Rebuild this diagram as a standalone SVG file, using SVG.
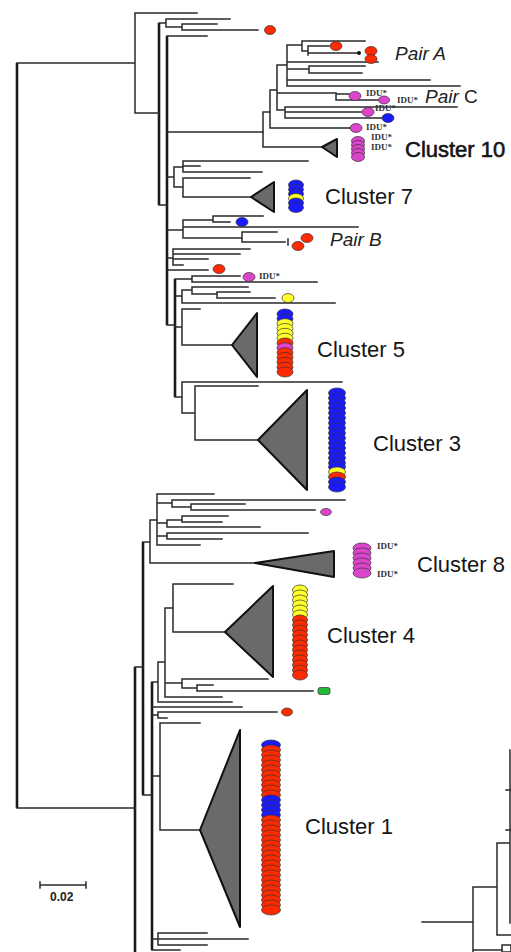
<svg xmlns="http://www.w3.org/2000/svg" width="511" height="952" viewBox="0 0 511 952">
<style>
.e{fill:none;stroke:#2a2a2a;stroke-width:1.5;stroke-linecap:square}
.t{fill:none;stroke:#1a1a1a;stroke-width:2.6}
.tri{fill:#6a6a6a;stroke:#111;stroke-width:2;stroke-linejoin:round}
.R{fill:#ff2a00;stroke:#333;stroke-width:0.7}
.B{fill:#1a1aff;stroke:#333;stroke-width:0.7}
.Y{fill:#ffff2a;stroke:#333;stroke-width:0.7}
.M{fill:#dd44cc;stroke:#333;stroke-width:0.7}
.G{fill:#22bb33;stroke:#333;stroke-width:0.7}
.lab{font-family:"Liberation Sans",Arial,sans-serif;font-size:22px;fill:#151515}
.pair{font-family:"Liberation Sans",Arial,sans-serif;font-size:19px;font-style:italic;fill:#222}
.idu{font-family:"Liberation Serif","Times New Roman",serif;font-size:9px;font-weight:bold;fill:#333}
.sb{font-family:"Liberation Sans",Arial,sans-serif;font-size:12px;font-weight:bold;fill:#222}
</style>
<rect width="511" height="952" fill="#fff"/>
<g id="connectors">
<path class="t" d="M17 63V808M159 23V205M167 36V325M135 667V952M143 542V795M152 682V950"/>
<path class="e" d="M17 63H135M17 808H135M135 13V113M135 13H197M135 113H159M159 23H166M166 19V27M166 19H230M166 27H182M182 24V30M182 24H217M182 30H258M159 205H167M167 36H207M167 132H263"/>
<path class="e" d="M263 112V147M263 147H322M263 112H270M270 90V128M270 128H351M270 90H277M277 65V110M277 110H285M285 107V118M285 107H457M285 112H361M285 118H382M277 93H336M336 94V100M336 94H349M336 100H378M277 65H287M287 45V86M287 45H302M302 41V51M302 41H365M302 51H308M308 46V55M308 46H329M308 53H357M287 62H378M287 69H309M309 66V73M309 66H365M309 73H362M287 80H430M287 86H460"/>
<path class="e" d="M167 177H174M174 167V187M174 167H183M183 161V172M183 161H308M183 166H200M183 172H262M174 187H183M183 178V197M183 178H250M183 197H251"/>
<path class="e" d="M167 230H183M183 220V238M183 220H213M213 216V222M213 216H263M213 222H230M183 227H358M183 238H242M242 232V242M242 232H277M242 242H285M288 239V245"/>
<path class="e" d="M167 258H173M173 249V265M173 249H250M173 254H240M173 259H208M173 265H183M167 270H208"/>
<path class="t" d="M175 279V397"/>
<path class="e" d="M167 325H175M175 279H192M192 276V282M192 276H240M192 282H317M175 296H182M182 290V303M182 290H192M192 287V294M192 287H248M192 294H217M217 292V298M217 292H250M217 298H275M182 303H335M175 327H182M182 309V345M182 309H200M182 345H232M175 397H182M182 382V413M182 382H342M182 413H195M195 386V440M195 386H258M195 440H258"/>
<path class="e" d="M135 667H143M143 542H150M150 520V563M150 563H255M150 520H157M157 494V545M157 494H214M157 503H172M172 500V507M172 500H345M172 507H191M191 504V510M191 504H245M191 510H315M157 523H167M167 520V527M167 520H182M182 516V522M182 516H228M182 522H222M167 527H260M157 536H167M167 533V539M167 533H308M167 539H222M157 545H200"/>
<path class="e" d="M143 795H152M152 682H158M158 662V702M158 662H165M165 608V697M165 608H173M173 584V632M173 584H233M173 632H225M165 683H182M182 679V688M182 679H268M182 688H197M197 685V691M197 685H213M197 691H313M165 697H222M158 702H232M152 707H242M152 715H158M158 712V718M158 712H277M158 718H167M152 776H160M160 723V830M160 723H200M160 830H200M152 939H248M158 933V945M158 933H207M158 945H207M152 950H180"/>
</g>
<g id="scale-bar">
<path class="e" d="M40 885H86M40 882V888M86 882V888"/>
<text class="sb" x="50" y="901">0.02</text>
</g>
<g id="second-tree">
<path class="e" d="M510 750V923M497 843H510M497 843V935M497 935H511M473 887H497M473 887V952M422 922H473M473 950H502M506 790H511M506 830H511"/>
<rect x="502" y="945" width="9" height="7" fill="none" stroke="#2a2a2a" stroke-width="1.5"/>
</g>
<g id="leaf-markers">
<ellipse class="R" cx="270" cy="30" rx="5.5" ry="4.5"/>
<ellipse class="R" cx="336" cy="46" rx="6" ry="4.5"/>
<circle cx="359" cy="53" r="2" fill="#111"/>
<ellipse class="M" cx="355" cy="96" rx="6" ry="4.5"/>
<ellipse class="M" cx="384" cy="100" rx="5.5" ry="4"/>
<ellipse class="M" cx="368" cy="112" rx="6" ry="4.5"/>
<ellipse class="B" cx="388" cy="118" rx="6" ry="4.5"/>
<ellipse class="M" cx="356" cy="128" rx="6" ry="4.5"/>
<ellipse class="B" cx="242" cy="222" rx="6" ry="4.5"/>
<ellipse class="R" cx="219" cy="269" rx="6" ry="4.5"/>
<ellipse class="M" cx="249" cy="277" rx="6" ry="4.5"/>
<ellipse class="Y" cx="288" cy="298" rx="6" ry="4.5"/>
<ellipse class="M" cx="326" cy="512" rx="5.5" ry="3.5"/>
<rect class="G" x="318" y="687.5" width="12" height="7" rx="2"/>
<ellipse class="R" cx="287" cy="712" rx="5.5" ry="4"/>
<text class="idu" x="366" y="96">IDU*</text>
<text class="idu" x="397" y="103">IDU*</text>
<text class="idu" x="375" y="111">IDU*</text>
<text class="idu" x="366" y="130">IDU*</text>
<text class="idu" x="259" y="279">IDU*</text>
</g>
<g id="pair-a">
<ellipse class="R" cx="371" cy="51" rx="6" ry="4.5"/>
<ellipse class="R" cx="371" cy="59" rx="6" ry="4.5"/>
<text class="pair" x="395" y="60">Pair A</text>
</g>
<g id="pair-c">
<text class="pair" x="425" y="103">Pair <tspan font-style="normal">C</tspan></text>
</g>
<g id="pair-b">
<ellipse class="R" cx="307" cy="238" rx="6" ry="4.5"/>
<ellipse class="R" cx="298" cy="246" rx="6" ry="4.5"/>
<text class="pair" x="330" y="246">Pair B</text>
</g>
<g id="cluster-10">
<polygon class="tri" points="322,147 337,139 337,157"/>
<ellipse class="M" cx="358" cy="141" rx="6.5" ry="4.5"/>
<ellipse class="M" cx="358" cy="145" rx="6.5" ry="4.5"/>
<ellipse class="M" cx="358" cy="149" rx="6.5" ry="4.5"/>
<ellipse class="M" cx="358" cy="153" rx="6.5" ry="4.5"/>
<ellipse class="M" cx="358" cy="157" rx="6.5" ry="4.5"/>
<text class="idu" x="371" y="140">IDU*</text>
<text class="idu" x="371" y="150">IDU*</text>
<text class="lab" x="405" y="157" stroke="#151515" stroke-width="0.6">Cluster 10</text>
</g>
<g id="cluster-7">
<polygon class="tri" points="251,197 274,182 274,212"/>
<ellipse class="B" cx="296" cy="185" rx="7.5" ry="5"/>
<ellipse class="B" cx="296" cy="189.5" rx="7.5" ry="5"/>
<ellipse class="B" cx="296" cy="194" rx="7.5" ry="5"/>
<ellipse class="Y" cx="296" cy="198.5" rx="7.5" ry="5"/>
<ellipse class="B" cx="296" cy="203" rx="7.5" ry="5"/>
<ellipse class="B" cx="296" cy="207.5" rx="7.5" ry="5"/>
<text class="lab" x="325" y="204">Cluster 7</text>
</g>
<g id="cluster-5">
<polygon class="tri" points="232,345 257,313 257,377"/>
<ellipse class="B" cx="285" cy="314" rx="8" ry="5"/>
<ellipse class="B" cx="285" cy="318.8" rx="8" ry="5"/>
<ellipse class="Y" cx="285" cy="323.7" rx="8" ry="5"/>
<ellipse class="Y" cx="285" cy="328.5" rx="8" ry="5"/>
<ellipse class="Y" cx="285" cy="333.3" rx="8" ry="5"/>
<ellipse class="Y" cx="285" cy="338.2" rx="8" ry="5"/>
<ellipse class="R" cx="285" cy="343" rx="8" ry="5"/>
<ellipse class="M" cx="285" cy="347.8" rx="8" ry="5"/>
<ellipse class="R" cx="285" cy="352.7" rx="8" ry="5"/>
<ellipse class="R" cx="285" cy="357.5" rx="8" ry="5"/>
<ellipse class="R" cx="285" cy="362.3" rx="8" ry="5"/>
<ellipse class="R" cx="285" cy="367.2" rx="8" ry="5"/>
<ellipse class="R" cx="285" cy="372" rx="8" ry="5"/>
<text class="lab" x="317" y="357">Cluster 5</text>
</g>
<g id="cluster-3">
<polygon class="tri" points="258,440 307,390 307,490"/>
<ellipse class="B" cx="337" cy="393" rx="8.5" ry="5"/>
<ellipse class="B" cx="337" cy="398" rx="8.5" ry="5"/>
<ellipse class="B" cx="337" cy="403" rx="8.5" ry="5"/>
<ellipse class="B" cx="337" cy="408" rx="8.5" ry="5"/>
<ellipse class="B" cx="337" cy="413" rx="8.5" ry="5"/>
<ellipse class="B" cx="337" cy="418" rx="8.5" ry="5"/>
<ellipse class="B" cx="337" cy="423" rx="8.5" ry="5"/>
<ellipse class="B" cx="337" cy="428" rx="8.5" ry="5"/>
<ellipse class="B" cx="337" cy="433" rx="8.5" ry="5"/>
<ellipse class="B" cx="337" cy="438" rx="8.5" ry="5"/>
<ellipse class="B" cx="337" cy="443" rx="8.5" ry="5"/>
<ellipse class="B" cx="337" cy="448" rx="8.5" ry="5"/>
<ellipse class="B" cx="337" cy="453" rx="8.5" ry="5"/>
<ellipse class="B" cx="337" cy="458" rx="8.5" ry="5"/>
<ellipse class="B" cx="337" cy="463" rx="8.5" ry="5"/>
<ellipse class="B" cx="337" cy="467" rx="8.5" ry="5"/>
<ellipse class="Y" cx="337" cy="472" rx="8.5" ry="5"/>
<ellipse class="R" cx="337" cy="477" rx="8.5" ry="5"/>
<ellipse class="B" cx="337" cy="482" rx="8.5" ry="5"/>
<ellipse class="B" cx="337" cy="487" rx="8.5" ry="5"/>
<text class="lab" x="373" y="451">Cluster 3</text>
</g>
<g id="cluster-8">
<polygon class="tri" points="255,563 334,551 334,577"/>
<ellipse class="M" cx="362" cy="548" rx="9" ry="5"/>
<ellipse class="M" cx="362" cy="553" rx="9" ry="5"/>
<ellipse class="M" cx="362" cy="558" rx="9" ry="5"/>
<ellipse class="M" cx="362" cy="563" rx="9" ry="5"/>
<ellipse class="M" cx="362" cy="568" rx="9" ry="5"/>
<ellipse class="M" cx="362" cy="573" rx="9" ry="5"/>
<text class="idu" x="377" y="549">IDU*</text>
<text class="idu" x="377" y="577">IDU*</text>
<text class="lab" x="417" y="572">Cluster 8</text>
</g>
<g id="cluster-4">
<polygon class="tri" points="225,632 273,586 273,677"/>
<ellipse class="Y" cx="300" cy="590" rx="7.5" ry="5"/>
<ellipse class="Y" cx="300" cy="595" rx="7.5" ry="5"/>
<ellipse class="Y" cx="300" cy="600" rx="7.5" ry="5"/>
<ellipse class="Y" cx="300" cy="605" rx="7.5" ry="5"/>
<ellipse class="Y" cx="300" cy="610" rx="7.5" ry="5"/>
<ellipse class="Y" cx="300" cy="615" rx="7.5" ry="5"/>
<ellipse class="R" cx="300" cy="620" rx="7.5" ry="5"/>
<ellipse class="R" cx="300" cy="625" rx="7.5" ry="5"/>
<ellipse class="R" cx="300" cy="630" rx="7.5" ry="5"/>
<ellipse class="R" cx="300" cy="635" rx="7.5" ry="5"/>
<ellipse class="R" cx="300" cy="640" rx="7.5" ry="5"/>
<ellipse class="R" cx="300" cy="645" rx="7.5" ry="5"/>
<ellipse class="R" cx="300" cy="650" rx="7.5" ry="5"/>
<ellipse class="R" cx="300" cy="655" rx="7.5" ry="5"/>
<ellipse class="R" cx="300" cy="660" rx="7.5" ry="5"/>
<ellipse class="R" cx="300" cy="665" rx="7.5" ry="5"/>
<ellipse class="R" cx="300" cy="670" rx="7.5" ry="5"/>
<ellipse class="R" cx="300" cy="675" rx="7.5" ry="5"/>
<text class="lab" x="327" y="643">Cluster 4</text>
</g>
<g id="cluster-1">
<polygon class="tri" points="200,830 240,730 240,927"/>
<ellipse class="B" cx="271" cy="745" rx="9.5" ry="5"/>
<ellipse class="R" cx="271" cy="750" rx="9.5" ry="5"/>
<ellipse class="R" cx="271" cy="755" rx="9.5" ry="5"/>
<ellipse class="R" cx="271" cy="760" rx="9.5" ry="5"/>
<ellipse class="R" cx="271" cy="765" rx="9.5" ry="5"/>
<ellipse class="R" cx="271" cy="770" rx="9.5" ry="5"/>
<ellipse class="R" cx="271" cy="775" rx="9.5" ry="5"/>
<ellipse class="R" cx="271" cy="780" rx="9.5" ry="5"/>
<ellipse class="R" cx="271" cy="785" rx="9.5" ry="5"/>
<ellipse class="R" cx="271" cy="790" rx="9.5" ry="5"/>
<ellipse class="R" cx="271" cy="795" rx="9.5" ry="5"/>
<ellipse class="B" cx="271" cy="800" rx="9.5" ry="5"/>
<ellipse class="B" cx="271" cy="805" rx="9.5" ry="5"/>
<ellipse class="B" cx="271" cy="810" rx="9.5" ry="5"/>
<ellipse class="B" cx="271" cy="815" rx="9.5" ry="5"/>
<ellipse class="R" cx="271" cy="820" rx="9.5" ry="5"/>
<ellipse class="R" cx="271" cy="825" rx="9.5" ry="5"/>
<ellipse class="R" cx="271" cy="830" rx="9.5" ry="5"/>
<ellipse class="R" cx="271" cy="835" rx="9.5" ry="5"/>
<ellipse class="R" cx="271" cy="840" rx="9.5" ry="5"/>
<ellipse class="R" cx="271" cy="845" rx="9.5" ry="5"/>
<ellipse class="R" cx="271" cy="850" rx="9.5" ry="5"/>
<ellipse class="R" cx="271" cy="855" rx="9.5" ry="5"/>
<ellipse class="R" cx="271" cy="860" rx="9.5" ry="5"/>
<ellipse class="R" cx="271" cy="865" rx="9.5" ry="5"/>
<ellipse class="R" cx="271" cy="870" rx="9.5" ry="5"/>
<ellipse class="R" cx="271" cy="875" rx="9.5" ry="5"/>
<ellipse class="R" cx="271" cy="880" rx="9.5" ry="5"/>
<ellipse class="R" cx="271" cy="885" rx="9.5" ry="5"/>
<ellipse class="R" cx="271" cy="890" rx="9.5" ry="5"/>
<ellipse class="R" cx="271" cy="895" rx="9.5" ry="5"/>
<ellipse class="R" cx="271" cy="900" rx="9.5" ry="5"/>
<ellipse class="R" cx="271" cy="905" rx="9.5" ry="5"/>
<ellipse class="R" cx="271" cy="910" rx="9.5" ry="5"/>
<text class="lab" x="305" y="834">Cluster 1</text>
</g>
</svg>
